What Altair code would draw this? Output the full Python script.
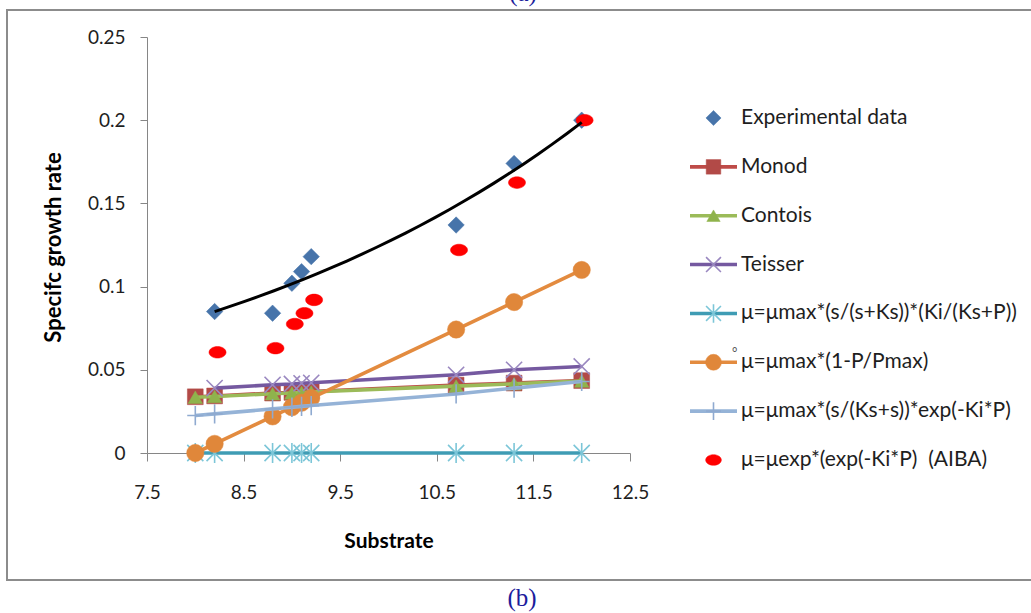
import altair as alt
import pandas as pd

# ---- data -----------------------------------------------------------------
substrate = [8.0, 8.2, 8.8, 9.0, 9.1, 9.2, 10.7, 11.3, 12.0]

exp_substrate = [8.2, 8.8, 9.0, 9.1, 9.2, 10.7, 11.3, 12.0]
exp_rate = [0.085, 0.084, 0.102, 0.109, 0.118, 0.137, 0.174, 0.200]

monod = [0.0338, 0.0343, 0.0360, 0.0364, 0.0367, 0.0370, 0.0408, 0.0420, 0.0435]
contois = [0.0335, 0.0340, 0.0356, 0.0361, 0.0364, 0.0367, 0.0402, 0.0416, 0.0433]

teisser_substrate = [8.2, 8.8, 9.0, 9.1, 9.2, 10.7, 11.3, 12.0]
teisser = [0.0390, 0.0410, 0.0415, 0.0419, 0.0422, 0.0470, 0.0500, 0.0520]

ki_ks_p = [0.0, 0.0, 0.0, 0.0, 0.0, 0.0, 0.0, 0.0, 0.0]
p_max = [0.0, 0.0055, 0.0220, 0.0275, 0.0302, 0.0330, 0.0742, 0.0907, 0.1100]
exp_ki_p = [0.0225, 0.0235, 0.0265, 0.0275, 0.0280, 0.0285, 0.0355, 0.0390, 0.0430]

aiba_substrate = [8.23, 8.83, 9.03, 9.13, 9.23, 10.73, 11.33, 12.03]
aiba = [0.0605, 0.0630, 0.0775, 0.0840, 0.0920, 0.1220, 0.1625, 0.2000]

names = [
    "Experimental data",
    "Monod",
    "Contois",
    "Teisser",
    "μ=μmax*(s/(s+Ks))*(Ki/(Ks+P))",
    "μ=μmax*(1-P/Pmax)",
    "μ=μmax*(s/(Ks+s))*exp(-Ki*P)",
    "μ=μexp*(exp(-Ki*P)\u00a0\u00a0(AIBA)",
]

x_ticks = [7.5, 8.5, 9.5, 10.5, 11.5, 12.5]
y_ticks = [0, 0.05, 0.1, 0.15, 0.2, 0.25]

# ---- styles ---------------------------------------------------------------
FONT = "Lato"
X_SHAPE = "M-1,-1L1,1M-1,1L1,-1"
STAR_SHAPE = "M-1,-1L1,1M-1,1L1,-1M0,-1.25L0,1.25"
PLUS_SHAPE = "M-1,0L1,0M0,-1.2L0,1.2"
ELLIPSE = "M-1,0A1,0.68,0,1,1,1,0A1,0.68,0,1,1,-1,0Z"

series = [
    dict(x=exp_substrate, y=exp_rate, line=None,
         point=dict(shape="diamond", size=270, filled=True, color="#4774aa")),
    dict(x=substrate, y=monod, line="#be4b48",
         point=dict(shape="square", size=250, filled=True, color="#b24a47")),
    dict(x=substrate, y=contois, line="#9bbb59",
         point=dict(shape="triangle-up", size=210, filled=True, color="#8fb34c")),
    dict(x=teisser_substrate, y=teisser, line="#7559a0",
         point=dict(shape=X_SHAPE, size=260, filled=False, color="#9a88c0", strokeWidth=1.6)),
    dict(x=substrate, y=ki_ks_p, line="#3f9cb4",
         point=dict(shape=STAR_SHAPE, size=260, filled=False, color="#7cc6d8", strokeWidth=1.6)),
    dict(x=substrate, y=p_max, line="#e38b3f",
         point=dict(shape="circle", size=300, filled=True, color="#e0873a")),
    dict(x=substrate, y=exp_ki_p, line="#95b3d7",
         point=dict(shape=PLUS_SHAPE, size=260, filled=False, color="#8faad0", strokeWidth=1.6)),
    dict(x=aiba_substrate, y=aiba, line=None,
         point=dict(shape=ELLIPSE, size=290, filled=True, color="#ff0000")),
]

x_scale = alt.Scale(domain=[7.5, 12.5], nice=False, zero=False)
y_scale = alt.Scale(domain=[0, 0.25], nice=False)

x_axis = alt.Axis(
    values=x_ticks, format=".1f", grid=False, labelFlush=False,
    domainColor="#868686", tickColor="#868686", tickSize=8,
    labelFont=FONT, labelFontSize=19, labelColor="#1e1e1e", labelPadding=22,
    title="Substrate", titleFont=FONT, titleFontSize=21, titleFontWeight="bold",
    titleColor="#000000", titleBaseline="alphabetic", titleY=94,
)
y_axis = alt.Axis(
    values=y_ticks, format="~g", grid=False, labelFlush=False,
    domainColor="#868686", tickColor="#868686", tickSize=7,
    labelFont=FONT, labelFontSize=19, labelColor="#1e1e1e", labelPadding=15,
    title="Specifc growth rate", titleFont=FONT, titleFontSize=22,
    titleFontWeight="bold", titleColor="#000000", titleBaseline="alphabetic",
    titleX=-87, titleY=210, titleAngle=270,
)

X = alt.X("x:Q", scale=x_scale, axis=x_axis)
Y = alt.Y("y:Q", scale=y_scale, axis=y_axis)

# ---- plot area ------------------------------------------------------------
main_layers = []
for s in series:
    df = pd.DataFrame({"x": s["x"], "y": s["y"]})
    if s["line"]:
        main_layers.append(
            alt.Chart(df).mark_line(color=s["line"], strokeWidth=3.6).encode(x=X, y=Y)
        )
    p = s["point"]
    kw = dict(shape=p["shape"], size=p["size"], filled=p["filled"], opacity=1)
    if p["filled"]:
        kw.update(fill=p["color"], stroke=p["color"], strokeWidth=0.5)
    else:
        kw.update(stroke=p["color"], strokeWidth=p.get("strokeWidth", 1.5))
    main_layers.append(alt.Chart(df).mark_point(**kw).encode(x=X, y=Y))

# exponential trend line through the experimental points
trend = (
    alt.Chart(pd.DataFrame({"x": exp_substrate, "y": exp_rate}))
    .transform_regression("x", "y", method="exp", extent=[8.2, 12.0])
    .mark_line(color="#000000", strokeWidth=3)
    .encode(x=X, y=Y)
)
main_layers.append(trend)
main = alt.layer(*main_layers)

# ---- legend ---------------------------------------------------------------
lx_scale = alt.Scale(domain=[0, 1], range=[543, 590])
ly_scale = alt.Scale(type="point", domain=names, range=[81, 423], padding=0)
ly = alt.Y("name:N", scale=ly_scale, axis=None)

legend_layers = []
for name, s in zip(names, series):
    row = pd.DataFrame({"name": [name], "x0": [0.0], "x1": [1.0], "xm": [0.5]})
    if s["line"]:
        legend_layers.append(
            alt.Chart(row).mark_rule(color=s["line"], strokeWidth=3.6).encode(
                x=alt.X("x0:Q", scale=lx_scale, axis=None), x2="x1:Q", y=ly)
        )
    p = s["point"]
    kw = dict(shape=p["shape"], size=p["size"] * 0.85, filled=p["filled"], opacity=1)
    if p["filled"]:
        kw.update(fill=p["color"], stroke=p["color"], strokeWidth=0.5)
    else:
        kw.update(stroke=p["color"], strokeWidth=p.get("strokeWidth", 1.5))
    legend_layers.append(
        alt.Chart(row).mark_point(**kw).encode(
            x=alt.X("xm:Q", scale=lx_scale, axis=None), y=ly)
    )

labels_df = pd.DataFrame({"name": names, "x1": [1.0] * len(names)})
legend_layers.append(
    alt.Chart(labels_df).mark_text(
        align="left", baseline="middle", dx=4, font=FONT, fontSize=21, color="#1e1e1e"
    ).encode(x=alt.X("x1:Q", scale=lx_scale, axis=None), y=ly, text="name:N")
)
# small degree mark printed before the Pmax label
legend_layers.append(
    alt.Chart(pd.DataFrame({"name": [names[5]], "x1": [1.0], "t": ["°"]})).mark_text(
        align="left", baseline="middle", dx=-5, dy=-9, font=FONT, fontSize=13,
        color="#555555"
    ).encode(x=alt.X("x1:Q", scale=lx_scale, axis=None), y=ly, text="t:N")
)

# ---- frame and panel captions ---------------------------------------------
one = pd.DataFrame({"t": ["(b)"]})
frame = alt.Chart(one).mark_rect(
    fill="transparent", stroke="#8c8c8c", strokeWidth=2
).encode(x=alt.value(-140), x2=alt.value(905), y=alt.value(-27), y2=alt.value(543))
cap_b = alt.Chart(one).mark_text(
    font="Liberation Serif", fontSize=25, color="#1c1c9c", align="center",
    baseline="alphabetic"
).encode(text="t:N", x=alt.value(375), y=alt.value(569))
cap_a = alt.Chart(pd.DataFrame({"t": ["(a)"]})).mark_text(
    font="Liberation Serif", fontSize=25, color="#1c1c9c", align="center",
    baseline="alphabetic"
).encode(text="t:N", x=alt.value(376), y=alt.value(-36))

legend = alt.layer(frame, cap_a, cap_b, *legend_layers)

chart = (
    alt.layer(main, legend)
    .resolve_scale(x="independent", y="independent")
    .properties(
        width=483, height=416,
        padding={"left": 147, "top": 37, "right": 401, "bottom": 160},
        autosize=alt.AutoSizeParams(type="none"),
        background="white",
    )
    .configure_view(stroke=None)
)

chart.save("out.html", embed_options={"renderer": "svg", "actions": False})
